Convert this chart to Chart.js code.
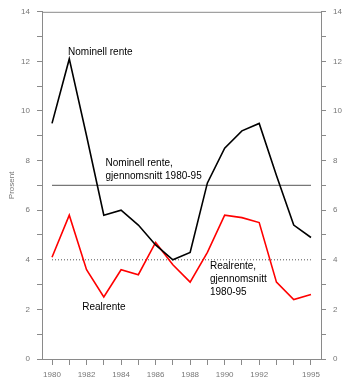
<!DOCTYPE html>
<html>
<head>
<meta charset="utf-8">
<script src="https://cdn.jsdelivr.net/npm/chart.js@4.4.0/dist/chart.umd.min.js"></script>
<style>
  html, body { margin: 0; padding: 0; background: #fff; }
  #chart { display: block; }
</style>
</head>
<body>
<canvas id="chart" width="350" height="386"></canvas>
<script>
// Rente 1980-95, prosent
const years = [1980, 1981, 1982, 1983, 1984, 1985, 1986, 1987, 1988, 1989, 1990, 1991, 1992, 1993, 1994, 1995];
const nominellRente = [9.5, 12.1, 9.0, 5.8, 6.0, 5.4, 4.6, 4.0, 4.3, 7.1, 8.5, 9.2, 9.5, 7.4, 5.4, 4.9];
const realRente = [4.1, 5.8, 3.6, 2.5, 3.6, 3.4, 4.7, 3.8, 3.1, 4.3, 5.8, 5.7, 5.5, 3.1, 2.4, 2.6];
const nominellSnitt = 7.0;
const realSnitt = 4.0;
const xTickLabels = ['1980', '1982', '1984', '1986', '1988', '1990', '1992', '1995'];
const yTickLabels = ['0', '2', '4', '6', '8', '10', '12', '14'];

const axisGray = '#8a8a8a';
const tickFont = { family: 'Liberation Sans, Arial, sans-serif', size: 8 };
const textFont = '10px "Liberation Sans", Arial, sans-serif';

function pts(values) {
    return years.map((y, i) => ({ x: y, y: values[i] }));
}
function flat(v) {
    return [{ x: years[0], y: v }, { x: years[years.length - 1], y: v }];
}

// tekst i figuren, plassert i dataverdier
const notes = [
    { lines: ['Nominell rente'], x: 1980.93, y: 12.35 },
    { lines: ['Nominell rente,', 'gjennomsnitt 1980-95'], x: 1983.1, y: 7.9 },
    { lines: ['Realrente'], x: 1981.75, y: 2.1 },
    { lines: ['Realrente,', 'gjennomsnitt', '1980-95'], x: 1989.15, y: 3.75 }
];

const notesPlugin = {
    id: 'notes',
    afterDraw(chart) {
        const ctx = chart.ctx;
        const xs = chart.scales.x, ys = chart.scales.y;
        const a = chart.chartArea;
        ctx.save();
        // toppkant
        ctx.strokeStyle = axisGray;
        ctx.lineWidth = 1;
        ctx.beginPath();
        ctx.moveTo(a.left, a.top + 0.5);
        ctx.lineTo(a.right, a.top + 0.5);
        ctx.stroke();
        ctx.fillStyle = '#000';
        ctx.font = textFont;
        ctx.textAlign = 'left';
        ctx.textBaseline = 'middle';
        notes.forEach(n => {
            const px = xs.getPixelForValue(n.x);
            const py = ys.getPixelForValue(n.y);
            n.lines.forEach((t, i) => ctx.fillText(t, px, py + i * 13));
        });
        ctx.restore();
    }
};

const yAxis = (pos) => ({
    type: 'linear',
    position: pos,
    min: 0,
    max: 14,
    afterBuildTicks: (s) => { s.ticks = []; for (let v = 0; v <= 14; v++) s.ticks.push({ value: v }); },
    afterFit: (s) => { s.width = pos === 'left' ? 42 : 29; },
    ticks: {
        color: '#777',
        font: tickFont,
        padding: 7,
        callback: (v) => yTickLabels.includes(String(v)) ? String(v) : ''
    },
    grid: { drawOnChartArea: false, tickLength: 5, color: axisGray },
    border: { color: axisGray, width: 1 }
});

new Chart(document.getElementById('chart').getContext('2d'), {
    type: 'line',
    data: {
        datasets: [
            { label: 'Nominell rente', data: pts(nominellRente), borderColor: '#000', borderWidth: 1.6 },
            { label: 'Realrente', data: pts(realRente), borderColor: '#ff0000', borderWidth: 1.6 },
            { label: 'Nominell rente, gjennomsnitt 1980-95', data: flat(nominellSnitt), borderColor: '#777', borderWidth: 1.2 },
            { label: 'Realrente, gjennomsnitt 1980-95', data: flat(realSnitt), borderColor: '#555', borderWidth: 1, borderDash: [1, 2] }
        ]
    },
    options: {
        responsive: false,
        animation: false,
        layout: { padding: { top: 10, left: 0, right: 0, bottom: 0 } },
        elements: { point: { radius: 0 }, line: { tension: 0, fill: false } },
        plugins: { legend: { display: false }, tooltip: { enabled: false } },
        scales: {
            x: {
                type: 'linear',
                min: 1979.42,
                max: 1995.58,
                afterBuildTicks: (s) => { s.ticks = years.map(v => ({ value: v })); },
                afterFit: (s) => { s.height = 27; },
                ticks: {
                    color: '#777',
                    font: tickFont,
                    padding: 5,
                    maxRotation: 0,
                    autoSkip: false,
                    callback: (v) => xTickLabels.includes(String(v)) ? String(v) : ''
                },
                grid: { drawOnChartArea: false, tickLength: 6, color: axisGray },
                border: { color: axisGray, width: 1 }
            },
            y: Object.assign(yAxis('left'), {
                title: { display: true, text: 'Prosent', color: '#777', font: tickFont, padding: { top: 7, bottom: 0 } }
            }),
            y2: yAxis('right')
        }
    },
    plugins: [notesPlugin]
});
</script>
</body>
</html>
